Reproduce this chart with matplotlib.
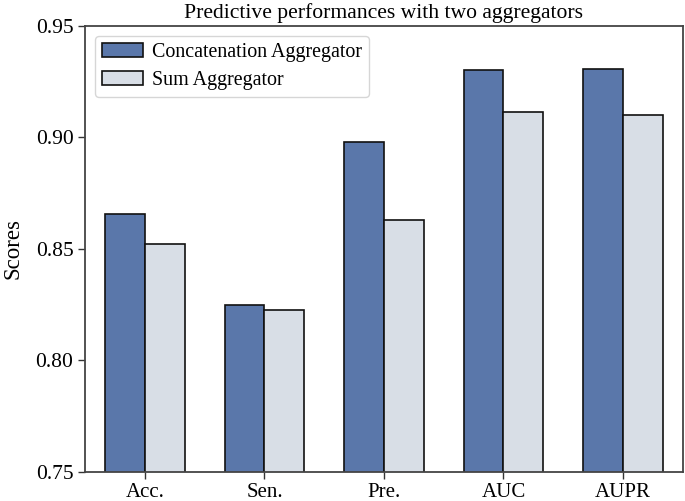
import matplotlib
matplotlib.use("Agg")
import matplotlib.pyplot as plt
import numpy as np

categories = ["Acc.", "Sen.", "Pre.", "AUC", "AUPR"]
concat_scores = [0.8655, 0.825, 0.898, 0.9303, 0.9309]
sum_scores = [0.8524, 0.8224, 0.8629, 0.9116, 0.9102]
series_labels = ["Concatenation Aggregator", "Sum Aggregator"]
yticks = [0.75, 0.80, 0.85, 0.90, 0.95]

plt.rcParams['font.family'] = ['Liberation Serif', 'DejaVu Serif']

fig = plt.figure(figsize=(6.85, 5.01), dpi=100)
ax = fig.add_axes([0.1245, 0.0585, 0.8721, 0.8895])

x = np.arange(len(categories))
w = 1/3
ax.bar(x - w/2, concat_scores, width=w, color="#5a77aa", edgecolor="#111111",
       linewidth=1.2, label=series_labels[0])
ax.bar(x + w/2, sum_scores, width=w, color="#d8dee6", edgecolor="#111111",
       linewidth=1.2, label=series_labels[1])

ax.set_xlim(-0.5, 4.5)
ax.set_ylim(0.75, 0.95)
ax.set_xticks(x)
ax.set_xticklabels(categories, fontsize=15)
ax.set_yticks(yticks)
ax.set_yticklabels([f"{t:.2f}" for t in yticks], fontsize=15.5)
ax.set_ylabel("Scores", fontsize=16.5, labelpad=9)
ax.set_title("Predictive performances with two aggregators", fontsize=15.6, pad=6)
for s in ax.spines.values():
    s.set_color("#444444")
    s.set_linewidth(1.3)
ax.tick_params(length=5, width=1.0, color="#333333")
ax.legend(loc="upper left", fontsize=14.4, handlelength=2.05, handleheight=0.7,
          handletextpad=0.45, borderpad=0.35, labelspacing=0.45,
          borderaxespad=0.5)

fig.savefig("out.png", dpi=100)
